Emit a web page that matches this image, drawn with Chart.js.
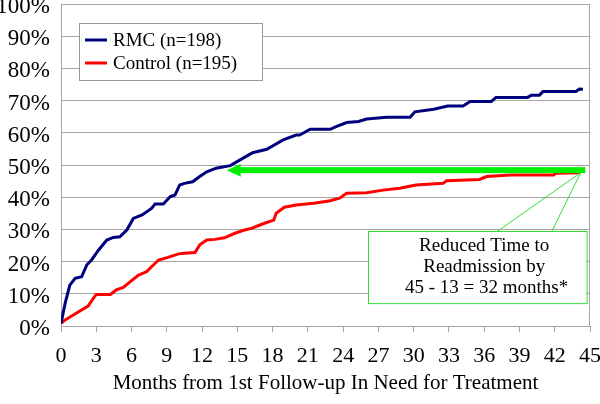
<!DOCTYPE html>
<html>
<head>
<meta charset="utf-8">
<script src="https://cdn.jsdelivr.net/npm/chart.js@4/dist/chart.umd.min.js"></script>
<style>
  body { margin: 0; background: #fff; }
  canvas { display: block; }
</style>
</head>
<body>
<canvas id="kmChart" width="600" height="404"></canvas>
<script>
// cumulative readmission (%), by month
const rmcMonths = [0, 0.35, 0.75, 1.2, 1.75, 2.2, 2.6, 3.2, 3.9, 4.45, 5.0, 5.6, 6.15, 6.9, 7.7, 8.0, 8.7, 9.3, 9.7, 10.1, 10.5, 11.2, 11.8, 12.4, 13.2, 14.4, 15.2, 16.3, 17.5, 18.9, 20.0, 20.3, 21.2, 22.9, 23.4, 24.3, 25.3, 26.0, 27.7, 29.7, 30.1, 31.7, 32.9, 34.2, 34.8, 36.6, 37.0, 39.7, 40.0, 40.7, 41.0, 43.8, 44.1, 44.4];
const rmcPct    = [0.8, 7, 12.7, 14.8, 15.3, 19, 20.5, 23.6, 26.7, 27.5, 27.7, 29.8, 33.4, 34.5, 36.5, 37.9, 37.9, 40.2, 40.7, 43.8, 44.3, 44.8, 46.4, 47.9, 49, 49.8, 51.5, 53.8, 54.9, 57.8, 59.3, 59.3, 61.1, 61.1, 61.9, 63.2, 63.5, 64.3, 64.8, 64.8, 66.5, 67.3, 68.3, 68.3, 69.7, 69.7, 71.0, 71.0, 71.7, 71.7, 72.8, 72.8, 73.6, 73.5];

const ctlMonths = [0, 0.35, 1.05, 1.75, 2.3, 2.75, 3.0, 4.2, 4.7, 5.3, 5.9, 6.6, 7.3, 7.7, 8.3, 9.1, 10.0, 10.5, 11.4, 11.8, 12.4, 13.1, 13.9, 14.8, 15.6, 16.2, 17.3, 18.1, 18.3, 19.0, 20.0, 21.5, 22.9, 23.7, 24.3, 26.0, 27.4, 28.8, 30.2, 32.5, 32.8, 35.6, 36.2, 38.2, 41.9, 42.1, 44.2];
const ctlPct    = [0.8, 1.9, 3.4, 5.0, 6.2, 8.6, 9.8, 9.8, 11.2, 12.0, 13.8, 15.8, 16.9, 18.4, 20.5, 21.3, 22.4, 22.6, 22.8, 25.2, 26.7, 26.9, 27.4, 28.8, 29.8, 30.3, 31.9, 32.9, 35.0, 36.9, 37.6, 38.1, 38.9, 39.7, 41.2, 41.4, 42.2, 42.8, 43.8, 44.3, 45.1, 45.5, 46.4, 46.9, 46.9, 47.4, 47.6];

const seriesLabels = ['RMC (n=198)', 'Control (n=195)'];
const xTicks = [0, 3, 6, 9, 12, 15, 18, 21, 24, 27, 30, 33, 36, 39, 42, 45];
const yTicks = [0, 10, 20, 30, 40, 50, 60, 70, 80, 90, 100];
const noteLines = ['Reduced Time to', 'Readmission by', ' 45 - 13 = 32 months*'];

const SERIF = '"Liberation Serif", serif';
const GRID = '#a6a6a6';
const LIME = '#00f000';

function toPoints(xs, ys) {
    let pts = [];
    for (let i = 0; i < xs.length; i++) {
        pts.push({x: xs[i], y: ys[i]});
    }
    return pts;
}

// legend, arrow and callout drawn on top through the scales
const overlayPlugin = {
    id: 'overlay',
    afterDatasetsDraw(chart) {
        const ctx = chart.ctx;
        const xs = chart.scales.x;
        const ys = chart.scales.y;
        const area = chart.chartArea;
        ctx.save();

        // plot border top/right
        ctx.strokeStyle = GRID;
        ctx.lineWidth = 1;
        ctx.beginPath();
        ctx.moveTo(area.left, area.top + 0.5);
        ctx.lineTo(area.right - 0.5, area.top + 0.5);
        ctx.lineTo(area.right - 0.5, area.bottom);
        ctx.stroke();

        // legend box
        ctx.fillStyle = '#fff';
        ctx.fillRect(79, 23, 183, 57);
        ctx.strokeStyle = '#999';
        ctx.strokeRect(79.5, 23.5, 183, 57);
        ctx.font = '19px ' + SERIF;
        ctx.textBaseline = 'middle';
        chart.data.datasets.forEach(function(ds, i) {
            let ly = 40 + i * 23;
            ctx.strokeStyle = ds.borderColor;
            ctx.lineWidth = 3;
            ctx.beginPath();
            ctx.moveTo(85, ly);
            ctx.lineTo(107, ly);
            ctx.stroke();
            ctx.fillStyle = '#000';
            ctx.textAlign = 'left';
            ctx.fillText(ds.label, 113, ly + 1);
        });

        // thick green arrow from 45 months back to RMC curve
        const ay = ys.getPixelForValue(48.4);
        const ax0 = xs.getPixelForValue(44.6);
        const ax1 = xs.getPixelForValue(14.1);
        ctx.fillStyle = LIME;
        ctx.fillRect(ax1 + 12, ay - 3, ax0 - ax1 - 12, 6);
        ctx.beginPath();
        ctx.moveTo(ax1, ay);
        ctx.lineTo(ax1 + 14, ay - 6.5);
        ctx.lineTo(ax1 + 14, ay + 6.5);
        ctx.closePath();
        ctx.fill();

        // callout box with pointer
        const bx0 = xs.getPixelForValue(26.1);
        const bx1 = xs.getPixelForValue(44.7);
        const by0 = ys.getPixelForValue(29.5);
        const by1 = ys.getPixelForValue(7.1);
        const tipX = xs.getPixelForValue(44.2);
        const tipY = ys.getPixelForValue(47.6);
        ctx.fillStyle = '#fff';
        ctx.fillRect(bx0, by0, bx1 - bx0, by1 - by0);
        ctx.strokeStyle = '#33dd33';
        ctx.lineWidth = 1;
        ctx.strokeRect(Math.round(bx0) + 0.5, Math.round(by0) + 0.5, bx1 - bx0, by1 - by0);
        ctx.beginPath();
        ctx.moveTo(xs.getPixelForValue(37.1), by0 + 0.5);
        ctx.lineTo(tipX, tipY);
        ctx.lineTo(xs.getPixelForValue(41.75), by0 + 0.5);
        ctx.stroke();

        ctx.fillStyle = '#000';
        ctx.textAlign = 'center';
        ctx.font = '19px ' + SERIF;
        const tx = xs.getPixelForValue(36.0);
        noteLines.forEach(function(line, i) {
            ctx.fillText(line, tx, by0 + 15 + i * 21);
        });
        ctx.restore();
    }
};

const ctx = document.getElementById('kmChart').getContext('2d');
const chart = new Chart(ctx, {
    type: 'line',
    data: {
        datasets: [
            {
                label: seriesLabels[0],
                data: toPoints(rmcMonths, rmcPct),
                borderColor: '#00007f',
                borderWidth: 3,
                pointRadius: 0,
                tension: 0,
                fill: false
            },
            {
                label: seriesLabels[1],
                data: toPoints(ctlMonths, ctlPct),
                borderColor: '#ff0000',
                borderWidth: 3,
                pointRadius: 0,
                tension: 0,
                fill: false
            }
        ]
    },
    options: {
        responsive: false,
        animation: false,
        layout: { padding: { top: 4, right: 10, left: 0, bottom: 0 } },
        plugins: {
            legend: { display: false },
            tooltip: { enabled: false }
        },
        scales: {
            x: {
                type: 'linear',
                min: 0,
                max: 45,
                afterBuildTicks: function(scale) {
                    scale.ticks = xTicks.map(v => ({value: v}));
                },
                afterFit: function(scale) {
                    scale.height = 78;
                    scale.paddingRight = 0;
                },
                grid: { drawOnChartArea: false, drawTicks: true, tickLength: 6, color: GRID },
                border: { display: true, color: GRID },
                ticks: {
                    color: '#000',
                    font: { family: SERIF, size: 22 },
                    padding: 11,
                    maxRotation: 0,
                    autoSkip: false
                },
                title: {
                    display: true,
                    text: 'Months from 1st Follow-up In Need for Treatment',
                    color: '#000',
                    font: { family: SERIF, size: 21 },
                    padding: { top: 0, bottom: 8 }
                }
            },
            y: {
                min: 0,
                max: 100,
                afterBuildTicks: function(scale) {
                    scale.ticks = yTicks.map(v => ({value: v}));
                },
                afterFit: function(scale) {
                    scale.width = 61;
                    scale.paddingTop = 0;
                    scale.paddingBottom = 0;
                },
                grid: { drawTicks: false, color: GRID },
                border: { display: true, color: GRID },
                ticks: {
                    color: '#000',
                    font: { family: SERIF, size: 23 },
                    padding: 11,
                    labelOffset: 3,
                    callback: function(v) { return v + '%'; }
                }
            }
        }
    },
    plugins: [overlayPlugin]
});
</script>
</body>
</html>
